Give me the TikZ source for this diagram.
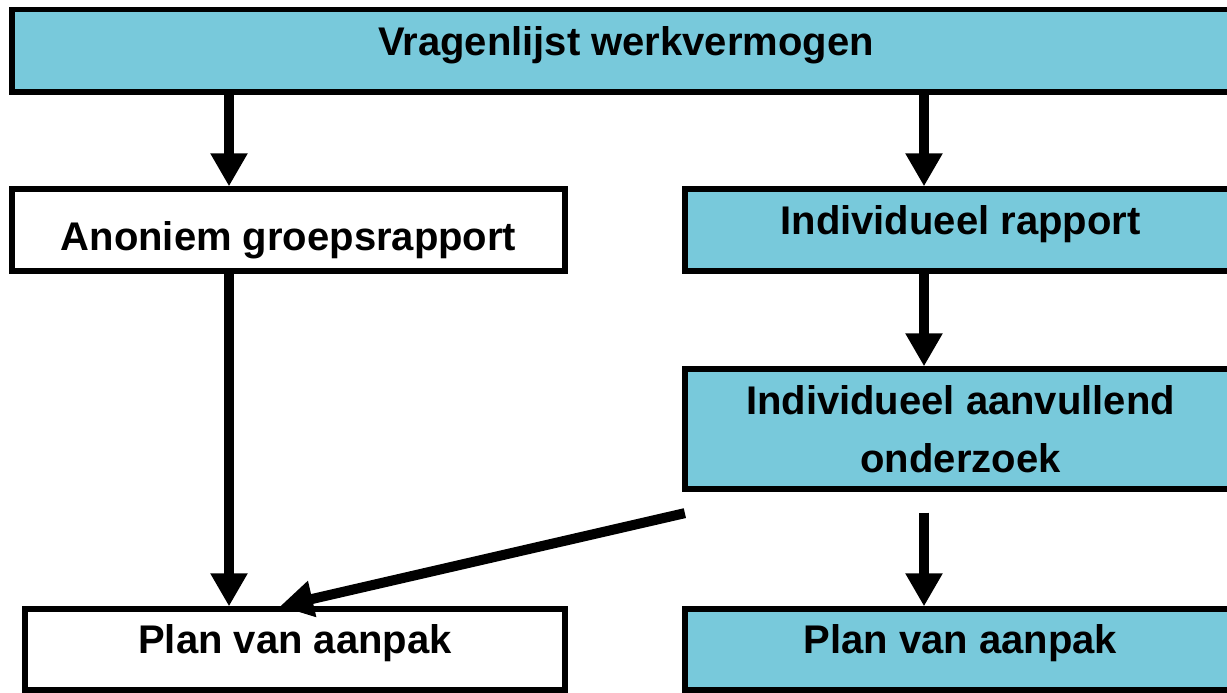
\documentclass[tikz,border=0pt]{standalone}
\usepackage{fontspec}
\setmainfont{Liberation Sans}
\usetikzlibrary{arrows.meta,calc}
\definecolor{boxblue}{RGB}{120,201,219}
\tikzset{
  box/.style={draw, line width=3pt, rectangle, inner sep=0pt, align=center,
    font=\fontsize{22.76}{33}\selectfont\bfseries},
  bluebox/.style={box, fill=boxblue},
  whitebox/.style={box, fill=white},
  arr/.style={line width=5.7pt, -{Triangle[length=0.66cm,width=0.7cm]}}
}
\begin{document}
\begin{tikzpicture}
\clip (0,0) rectangle (24.54,-13.86);
\fill [white] (0,0) rectangle (24.54,-13.86);

\node [bluebox, minimum width=24.56cm, minimum height=1.65cm, text depth=0.37cm] (vragen) at (12.52,-1.015) {Vragenlijst werkvermogen};
\node [whitebox, minimum width=11.06cm, minimum height=1.64cm, text height=1.0cm] (anon) at (5.77,-4.6) {Anoniem groepsrapport};
\node [bluebox, minimum width=11.02cm, minimum height=1.64cm, text depth=0.39cm] (indiv) at (19.21,-4.6) {Individueel rapport};
\node [bluebox, minimum width=11.02cm, minimum height=2.4cm] (aanv) at (19.21,-8.58) {Individueel aanvullend\\onderzoek};
\node [whitebox, minimum width=10.8cm, minimum height=1.62cm, text depth=0.41cm] (planl) at (5.9,-12.99) {Plan van aanpak};
\node [bluebox, minimum width=11.02cm, minimum height=1.62cm, text depth=0.41cm] (planr) at (19.21,-12.99) {Plan van aanpak};

\coordinate (lx) at (4.58,0);
\coordinate (rx) at (18.48,0);
\draw [arr] (vragen.south -| lx) -- (anon.north -| lx);
\draw [arr] (vragen.south -| rx) -- (indiv.north -| rx);
\draw [arr] (anon.south -| lx) -- (planl.north -| lx);
\draw [arr] (indiv.south -| rx) -- (aanv.north -| rx);
\draw [arr] ($(aanv.south -| rx)+(0,-0.42)$) -- (planr.north -| rx);
\draw [arr] ($(aanv.south west)+(0.05,-0.43)$) -- ($(planl.north)+(-0.3,0)$);
\end{tikzpicture}
\end{document}
